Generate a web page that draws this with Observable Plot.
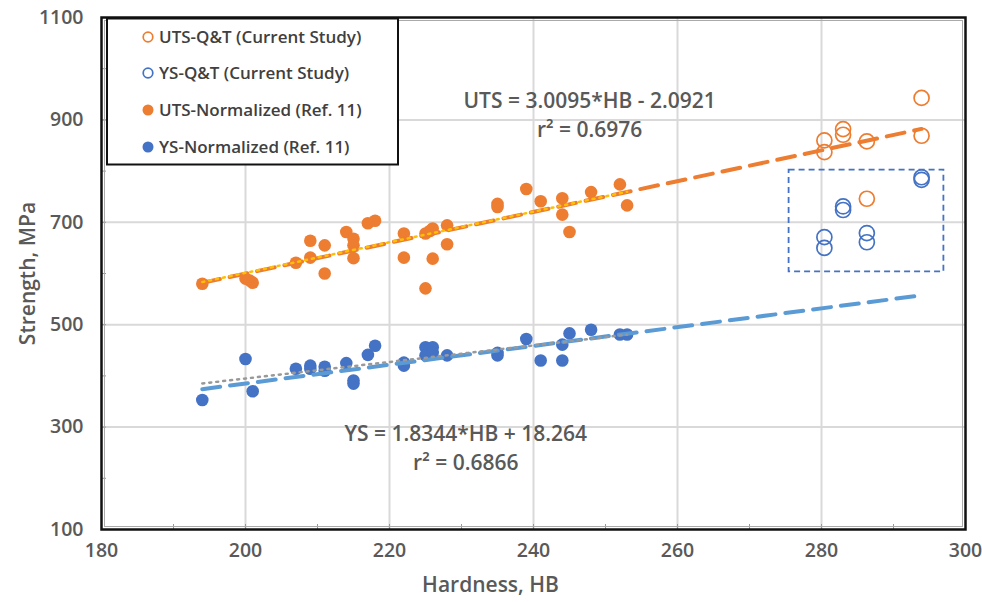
<!DOCTYPE html>
<html><head><meta charset="utf-8">
<script src="https://cdn.jsdelivr.net/npm/d3@7"></script>
<script src="https://cdn.jsdelivr.net/npm/@observablehq/plot@0.6"></script>
<style>body{margin:0;background:#fff;font-family:"Open Sans",sans-serif}</style>
</head><body><div id="chart"></div>
<script>
// ---- data ----
const qtHB      = [280.4, 280.4, 283, 283, 286.3, 286.3, 293.9, 293.9];
const qtUTS     = [860, 837, 882, 871, 858, 746, 943, 869];
const qtYS      = [671, 650, 731, 724, 679, 661, 788, 783];

const normUtsHB = [194, 200, 200.6, 201, 207, 209, 209, 211, 211, 214, 215, 215, 215, 217, 218, 222, 222, 225, 225, 225.6, 226, 226, 228, 228, 235, 235, 239, 241, 244, 244, 245, 248, 252, 253];
const normUTS   = [580, 590, 586, 582, 621, 664, 631, 655, 600, 681, 668, 655, 630, 698, 703, 678, 631, 571, 678, 683, 688, 629, 694, 657, 736, 730, 765, 741, 747, 715, 681, 759, 774, 733];

const normYsHB  = [194, 200, 201, 207, 209, 209, 211, 211, 214, 215, 215, 217, 218, 222, 222, 225, 226, 225, 226, 228, 235, 235, 239, 241, 244, 244, 245, 248, 252, 253];
const normYS    = [353, 433, 370, 414, 420, 414, 418, 410, 425, 391, 385, 441, 459, 426, 420, 456, 456, 440, 445, 440, 440, 445, 472, 430, 430, 461, 483, 490, 481, 481];

// fitted equations (all data)
const utsFit = {slope: 3.0095, intercept: -2.0921};
const ysFit  = {slope: 1.8344, intercept: 18.264};
const eqTexts = ["UTS = 3.0095*HB - 2.0921", "r² = 0.6976", "YS = 1.8344*HB + 18.264", "r² = 0.6866"];

const xTicks = [180, 200, 220, 240, 260, 280, 300];
const yTicks = [100, 300, 500, 700, 900, 1100];
const xGrid  = [200, 220, 240, 260, 280];
const yGrid  = [300, 500, 700, 900];
const xMinor = d3.range(190, 300, 10);
const yMinor = d3.range(200, 1100, 100);

const boxHB  = [275.5, 297];
const boxMPa = [603, 802];

const legendLabels = ["UTS-Q&T (Current Study)", "YS-Q&T (Current Study)", "UTS-Normalized (Ref. 11)", "YS-Normalized (Ref. 11)"];

// ---- build tables ----
const ORANGE = "#ED7D31", BLUE = "#4472C4", LBLUE = "#5B9BD5", TXT = "#595959";
const qt = qtHB.map((h, i) => ({hb: h, uts: qtUTS[i], ys: qtYS[i]}));
const nU = normUtsHB.map((h, i) => ({hb: h, v: normUTS[i]}));
const nY = normYsHB.map((h, i) => ({hb: h, v: normYS[i]}));
const allHB = d3.extent([...qtHB, ...normUtsHB, ...normYsHB]);
const utsLine = allHB.map(h => ({hb: h, v: utsFit.slope * h + utsFit.intercept}));
const ysLine  = allHB.map(h => ({hb: h, v: ysFit.slope * h + ysFit.intercept}));

const font = {fontFamily: "Open Sans", fontWeight: 600};

const chart = Plot.plot({
  width: 982, height: 602,
  marginLeft: 101, marginRight: 17, marginTop: 17, marginBottom: 73,
  style: {fontFamily: "Open Sans", background: "#fff"},
  x: {domain: [180, 300], label: null},
  y: {domain: [100, 1100], label: null},
  marks: [
    Plot.ruleX(xGrid, {stroke: "#d9d9d9", strokeWidth: 2}),
    Plot.ruleY(yGrid, {stroke: "#d9d9d9", strokeWidth: 2}),
    Plot.axisX({ticks: xTicks, tickFormat: d => String(d), tickSize: 0, tickPadding: 14, fontSize: 19.5, fontWeight: 600, color: TXT, fontFamily: "Open Sans"}),
    Plot.axisY({ticks: yTicks, tickFormat: d => String(d), tickSize: 0, tickPadding: 18, fontSize: 19.5, fontWeight: 600, color: TXT, fontFamily: "Open Sans"}),
    Plot.axisX({ticks: xMinor, tickSize: 5, dy: -5, text: null, stroke: "#999"}),
    Plot.axisY({ticks: yMinor, tickSize: 5, dx: 5, text: null, stroke: "#999"}),
    Plot.frame({stroke: "#111", strokeWidth: 2.5}),
    Plot.frame({stroke: "#aaa", strokeWidth: 1, inset: 3}),
    Plot.rect([0], {x1: boxHB[0], x2: boxHB[1], y1: boxMPa[0], y2: boxMPa[1], fill: "none", stroke: BLUE, strokeWidth: 1.8, strokeDasharray: "6,4"}),
    // markers
    Plot.dot(qt, {x: "hb", y: "uts", r: 7.5, stroke: ORANGE, strokeWidth: 1.7, fill: "none"}),
    Plot.dot(qt, {x: "hb", y: "ys", r: 7.5, stroke: BLUE, strokeWidth: 1.7, fill: "none"}),
    Plot.dot(nU, {x: "hb", y: "v", r: 6.3, fill: ORANGE, stroke: null}),
    Plot.dot(nY, {x: "hb", y: "v", r: 6.3, fill: BLUE, stroke: null}),
    // trendlines
    Plot.line(utsLine, {x: "hb", y: "v", stroke: ORANGE, strokeWidth: 4, strokeDasharray: "18,10", strokeLinecap: "round"}),
    Plot.line(ysLine, {x: "hb", y: "v", stroke: LBLUE, strokeWidth: 4, strokeDasharray: "18,10", strokeLinecap: "round"}),
    Plot.linearRegressionY(nU, {x: "hb", y: "v", ci: 0, stroke: "#FFC000", strokeWidth: 2.5, strokeDasharray: "2,5", strokeLinecap: "round"}),
    Plot.linearRegressionY(nY, {x: "hb", y: "v", ci: 0, stroke: "#999999", strokeWidth: 2.5, strokeDasharray: "2,5", strokeLinecap: "round"}),
    // equations
    Plot.text([eqTexts[0]], {x: 247.8, y: 937, text: d => d, fontSize: 21, fill: TXT, ...font}),
    Plot.text([eqTexts[1]], {x: 247.8, y: 880, text: d => d, fontSize: 21, fill: TXT, ...font}),
    Plot.text([eqTexts[2]], {x: 230.6, y: 286, text: d => d, fontSize: 21, fill: TXT, ...font}),
    Plot.text([eqTexts[3]], {x: 230.6, y: 230, text: d => d, fontSize: 21, fill: TXT, ...font}),
    // axis titles
    Plot.text(["Hardness, HB"], {frameAnchor: "bottom", dx: -43, dy: 62, textAnchor: "middle", text: d => d, fontSize: 21, fill: TXT, ...font}),
    Plot.text(["Strength, MPa"], {frameAnchor: "left", dx: -73, rotate: -90, textAnchor: "middle", text: d => d, fontSize: 21, fill: TXT, ...font})
  ]
});

// legend (inside the plot frame, top-left)
const svg = d3.select(chart);
const lg = svg.append("g").attr("font-family", "Open Sans").attr("font-weight", 600).attr("font-size", 17).attr("text-anchor", "start");
lg.append("rect").attr("x", 107).attr("y", 18.5).attr("width", 291).attr("height", 146).attr("fill", "#fff").attr("stroke", "#111").attr("stroke-width", 2);
const rowsY = [37, 73, 110, 147];
const styles = [
  {fill: "none", stroke: ORANGE}, {fill: "none", stroke: BLUE},
  {fill: ORANGE, stroke: "none"}, {fill: BLUE, stroke: "none"}
];
legendLabels.forEach((t, i) => {
  lg.append("circle").attr("cx", 148).attr("cy", rowsY[i]).attr("r", styles[i].fill === "none" ? 4.8 : 5.5)
    .attr("fill", styles[i].fill).attr("stroke", styles[i].stroke).attr("stroke-width", 1.7);
  lg.append("text").attr("x", 159).attr("y", rowsY[i]).attr("dy", "0.35em").attr("text-anchor", "start").attr("fill", "#404040").text(t);
});

document.getElementById("chart").appendChild(chart);
</script>
</body></html>
